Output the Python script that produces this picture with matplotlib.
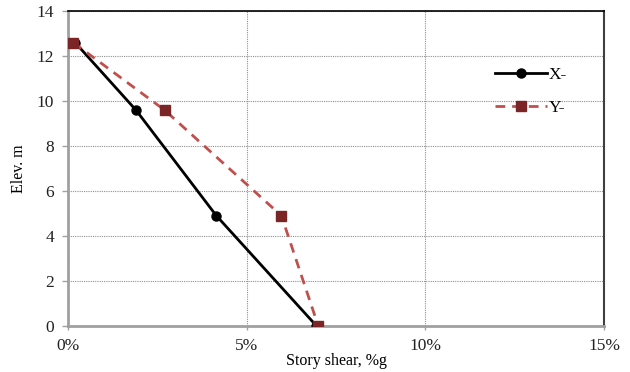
import matplotlib
matplotlib.use("Agg")
import matplotlib.pyplot as plt
from matplotlib.ticker import FuncFormatter

plt.rcParams['font.family'] = ['Liberation Serif', 'DejaVu Serif']

elev = [12.6, 9.6, 4.9, 0.0]
shear_x = [0.2, 1.9, 4.15, 6.95]
shear_y = [0.15, 2.7, 5.97, 7.0]
xticks = [0, 5, 10, 15]
yticks = [0, 2, 4, 6, 8, 10, 12, 14]

fig = plt.figure(figsize=(6.3, 3.72), dpi=100)
ax = fig.add_axes([0.108, 0.124, 0.851, 0.846])

ax.plot(shear_x, elev, color='black', lw=2, marker='o', ms=6.5, label='X-', zorder=3)
ax.plot(shear_y, elev, color='#c0504d', lw=2, ls=(0, (3.5, 2.5)), marker='s', ms=6.5,
        markerfacecolor='#7b2526', markeredgecolor='#7b2526', label='Y-', zorder=4)

ax.set_xlim(0, 15)
ax.set_ylim(0, 14)
ax.set_xticks(xticks)
ax.set_yticks(yticks)
ax.xaxis.set_major_formatter(FuncFormatter(lambda v, p: f"{int(v)}%"))
ax.grid(True, color='#909090', ls=(0, (1, 1)), lw=0.8)
ax.tick_params(axis='both', labelsize=12.5, colors='#222222', length=4, width=1)
ax.tick_params(axis='x', pad=6, length=3)
ax.tick_params(axis='y', pad=6)
for s in ['left', 'bottom']:
    ax.spines[s].set_color('#a0a0a0')
    ax.spines[s].set_linewidth(2)
ax.spines['top'].set_color('black')
ax.spines['top'].set_linewidth(1.2)
ax.spines['right'].set_color('#404040')
ax.spines['right'].set_linewidth(1.5)
ax.tick_params(axis='x', color='#a0a0a0')
ax.tick_params(axis='y', color='#a0a0a0')

ax.set_xlabel('Story shear, %g', fontsize=11.5, labelpad=-1)
ax.set_ylabel('Elev. m', fontsize=11.5, labelpad=7)

leg = ax.legend(loc='center left', bbox_to_anchor=(0.78, 0.745), frameon=False,
                fontsize=12.5, handlelength=3.0, labelspacing=1.0, handletextpad=0.1,
                borderpad=0)

fig.savefig('out.png', dpi=100)
